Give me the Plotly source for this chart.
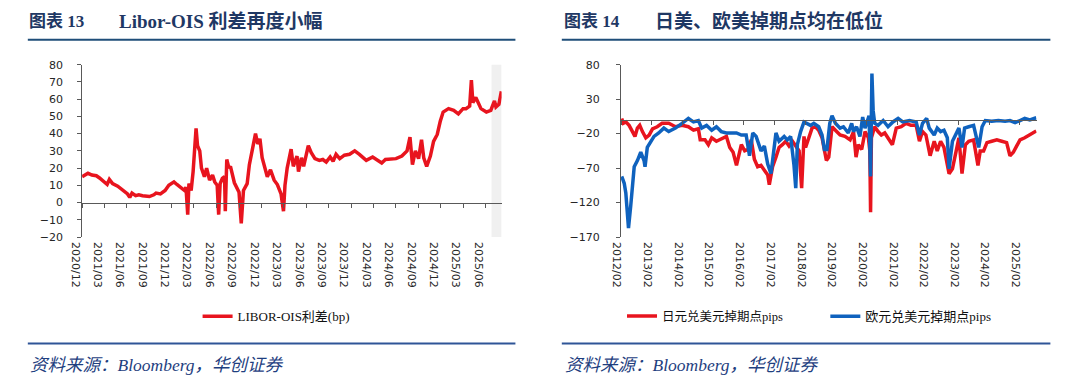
import plotly.graph_objects as go

W, H = 1080, 392

# ---------------- data: left chart (LIBOR-OIS spread, bp) ----------------
libor_dates = [
    "2020-12-01", "2020-12-12", "2020-12-25", "2021-01-10", "2021-01-28", "2021-02-10",
    "2021-03-01", "2021-03-13", "2021-03-22", "2021-04-04", "2021-04-25", "2021-05-13",
    "2021-06-04", "2021-06-13", "2021-06-22", "2021-07-07", "2021-07-20", "2021-08-04",
    "2021-08-18", "2021-09-01", "2021-09-19", "2021-09-28", "2021-10-16", "2021-11-04",
    "2021-11-19", "2021-12-10", "2021-12-22", "2022-01-10", "2022-01-22", "2022-01-28",
    "2022-02-04", "2022-02-09", "2022-02-18", "2022-02-26", "2022-03-04", "2022-03-10",
    "2022-03-16", "2022-03-25", "2022-04-01", "2022-04-13", "2022-04-22", "2022-05-04",
    "2022-05-16", "2022-05-25", "2022-06-04", "2022-06-10", "2022-06-16", "2022-06-25",
    "2022-07-04", "2022-07-07", "2022-07-13", "2022-07-22", "2022-07-28", "2022-08-13",
    "2022-09-01", "2022-09-10", "2022-09-19", "2022-10-04", "2022-10-13", "2022-10-25",
    "2022-11-07", "2022-11-16", "2022-11-25", "2022-12-04", "2022-12-13", "2022-12-25",
    "2023-01-07", "2023-01-22", "2023-02-04", "2023-02-19", "2023-03-01", "2023-03-07",
    "2023-03-16", "2023-03-25", "2023-04-01", "2023-04-10", "2023-04-25", "2023-05-01",
    "2023-05-13", "2023-05-22", "2023-06-10", "2023-06-22", "2023-07-07", "2023-07-25",
    "2023-08-08", "2023-08-22", "2023-09-07", "2023-09-19", "2023-10-01", "2023-10-16",
    "2023-11-04", "2023-11-25", "2023-12-16", "2024-01-04", "2024-02-01", "2024-02-27",
    "2024-03-16", "2024-04-04", "2024-04-19", "2024-05-10", "2024-06-01", "2024-06-25",
    "2024-07-16", "2024-07-28", "2024-08-07", "2024-08-19", "2024-09-01", "2024-09-13",
    "2024-09-22", "2024-10-04", "2024-10-19", "2024-11-01", "2024-11-16", "2024-11-28",
    "2024-12-10", "2025-01-01", "2025-01-22", "2025-02-10", "2025-03-01", "2025-03-13",
    "2025-03-28", "2025-04-04", "2025-04-10", "2025-04-22", "2025-05-13", "2025-06-04",
    "2025-06-22", "2025-07-07", "2025-07-13", "2025-07-25", "2025-08-04",
]
libor_values = [
    15, 16, 17, 16, 15.6, 14.3,
    12, 10.5, 13.4, 11, 9.5, 7.5,
    5, 3, 5.5, 4, 4.5, 4,
    3.5, 3.5, 4.5, 5.5, 5, 7,
    10, 12, 10.5, 8, 7, 9,
    -7, 11, 7, 18, 33, 43,
    33, 30, 20, 15, 20, 13,
    16, 12, 10, -7, 11, 14,
    15, -5, 25, 20, 21, 11.5,
    6, -12, 7, 11, 22, 31,
    40, 34, 37, 26, 21, 15,
    19, 13, 10.5, 5, -5, 10,
    20, 26, 31, 21, 27, 18,
    26, 21, 33, 29, 25.5, 24.5,
    25, 23.5, 26.5, 24, 28, 25.5,
    27.5, 28, 30, 28, 24.5, 26.5,
    25, 23, 25, 25, 25.5, 27,
    30, 38, 22, 30, 25.5, 36.5,
    26, 21, 27, 35.5, 39.5, 47,
    52.5, 54.5, 53.5, 51.5, 54.5, 54.5,
    56, 71, 58, 61, 54.5, 52.5,
    53.5, 59, 55.5, 57, 64.5,
]
left_name = "LIBOR-OIS利差(bp)"
left_xrange = ["2020-12-01", "2025-08-05"]
left_shade = ["2025-06-25", "2025-08-05"]
left_ticktext = ["2020/12", "2021/03", "2021/06", "2021/09", "2021/12", "2022/03", "2022/06",
                 "2022/09", "2022/12", "2023/03", "2023/06", "2023/09", "2023/12", "2024/03",
                 "2024/06", "2024/09", "2024/12", "2025/03", "2025/06"]
left_yrange = [-20, 80]

# ---------------- data: right chart (swap points, pips) ----------------
jpy_dates = [
    "2012-02-09", "2012-02-28", "2012-03-29", "2012-05-07", "2012-06-16", "2012-07-16",
    "2012-08-14", "2012-09-11", "2012-10-13", "2012-11-22", "2013-01-01", "2013-02-10",
    "2013-04-07", "2013-06-04", "2013-08-22", "2013-11-10", "2014-01-28", "2014-04-13",
    "2014-06-13", "2014-08-10", "2014-09-01", "2014-10-28", "2014-12-07", "2015-01-16",
    "2015-03-13", "2015-05-10", "2015-07-10", "2015-08-19", "2015-09-28", "2015-11-07",
    "2015-11-25", "2016-01-04", "2016-02-13", "2016-03-22", "2016-05-01", "2016-06-07",
    "2016-07-16", "2016-08-25", "2016-10-04", "2016-11-13", "2016-12-02", "2017-01-10",
    "2017-02-19", "2017-03-28", "2017-05-07", "2017-06-16", "2017-07-25", "2017-09-04",
    "2017-10-13", "2017-11-22", "2017-12-22", "2018-01-19", "2018-02-07", "2018-03-16",
    "2018-04-25", "2018-06-04", "2018-07-13", "2018-08-22", "2018-09-19", "2018-10-13",
    "2018-11-10", "2018-12-19", "2019-01-28", "2019-03-25", "2019-05-22", "2019-07-22",
    "2019-09-01", "2019-10-01", "2019-10-28", "2019-12-07", "2020-01-16", "2020-02-25",
    "2020-03-13", "2020-03-22", "2020-04-01", "2020-05-10", "2020-06-19", "2020-07-28",
    "2020-09-07", "2020-10-16", "2020-12-07", "2021-01-22", "2021-03-22", "2021-05-19",
    "2021-07-16", "2021-09-16", "2021-10-25", "2021-12-01", "2022-01-10", "2022-03-01",
    "2022-04-19", "2022-05-25", "2022-07-04", "2022-08-13", "2022-10-13", "2022-11-22",
    "2023-01-01", "2023-02-07", "2023-03-16", "2023-04-25", "2023-06-04", "2023-08-01",
    "2023-09-22", "2023-10-19", "2023-11-28", "2024-01-07", "2024-03-04", "2024-05-04",
    "2024-07-01", "2024-08-28", "2024-10-07", "2024-11-16", "2024-12-25", "2025-02-04",
    "2025-04-01", "2025-06-01", "2025-07-28", "2025-08-16",
]
jpy_values = [
    2, -5, -3, -8, -17, -24,
    -12, -8, -17, -26, -22, -13,
    -10, -5, -5, -10, -8, -10,
    -15, -13, -29, -29, -36, -26,
    -31, -27, -24, -40, -47, -66,
    -57, -36, -45, -43, -29, -57,
    -68, -66, -73, -80, -94, -68,
    -54, -40, -36, -31, -38, -31,
    -38, -45, -99, -24, -40, -26,
    -12, -10, -15, -26, -45, -59,
    -54, -10, -15, -22, -24, -29,
    -17, -54, -36, -43, -17, -26,
    -45, -134, -26, -10, -17, -22,
    -19, -26, -36, -12, -10, -5,
    -8, -8, -31, -17, -22, -52,
    -31, -45, -31, -40, -78, -71,
    -45, -26, -78, -36, -31, -29,
    -66, -45, -45, -33, -31, -29,
    -31, -33, -52, -47, -38, -29,
    -26, -22, -17, -16,
]
eur_dates = [
    "2012-02-09", "2012-03-10", "2012-03-29", "2012-04-19", "2012-04-30", "2012-05-27",
    "2012-06-16", "2012-07-07", "2012-08-14", "2012-09-23", "2012-11-01", "2012-11-13",
    "2012-12-10", "2013-01-19", "2013-02-28", "2013-04-25", "2013-06-25", "2013-08-22",
    "2013-11-10", "2014-01-28", "2014-04-13", "2014-06-13", "2014-08-10", "2014-09-19",
    "2014-11-16", "2015-01-16", "2015-03-13", "2015-05-10", "2015-07-10", "2015-09-07",
    "2015-11-07", "2016-01-04", "2016-03-01", "2016-04-10", "2016-05-19", "2016-06-28",
    "2016-08-25", "2016-10-04", "2016-11-13", "2016-12-22", "2017-01-22", "2017-02-19",
    "2017-03-28", "2017-05-28", "2017-07-04", "2017-08-13", "2017-09-22", "2017-10-13",
    "2017-11-01", "2017-12-10", "2018-01-19", "2018-02-28", "2018-04-07", "2018-05-16",
    "2018-07-13", "2018-08-22", "2018-09-19", "2018-10-19", "2018-11-22", "2018-12-19",
    "2019-01-28", "2019-03-25", "2019-05-04", "2019-07-01", "2019-08-10", "2019-09-01",
    "2019-10-07", "2019-11-16", "2019-12-19", "2020-01-16", "2020-02-13", "2020-03-04",
    "2020-03-22", "2020-04-07", "2020-04-22", "2020-05-10", "2020-06-19", "2020-08-19",
    "2020-10-16", "2020-12-13", "2021-02-13", "2021-04-10", "2021-06-28", "2021-09-16",
    "2021-10-25", "2021-12-01", "2022-01-19", "2022-02-19", "2022-04-19", "2022-05-25",
    "2022-07-04", "2022-08-13", "2022-09-22", "2022-10-13", "2022-11-22", "2023-01-01",
    "2023-02-07", "2023-03-16", "2023-04-16", "2023-06-04", "2023-08-01", "2023-10-01",
    "2023-11-10", "2023-12-19", "2024-03-04", "2024-05-22", "2024-08-10", "2024-10-07",
    "2024-12-07", "2025-02-04", "2025-04-01", "2025-06-01", "2025-07-28", "2025-08-16",
]
eur_values = [
    -82, -92, -106, -148, -157, -124,
    -92, -68, -59, -47, -59, -68,
    -40, -31, -24, -19, -12, -17,
    -12, -5, 2, -3, -1, -12,
    -8, -15, -10, -17, -19, -19,
    -19, -22, -22, -52, -19, -24,
    -45, -38, -64, -78, -45, -19,
    -31, -24, -29, -24, -66, -99,
    -36, -17, -3, -5, -8, -5,
    -10, -22, -43, -43, -5, 6,
    -5, -12, -10, -19, -5, -17,
    -10, -24, 4, -12, -1, 6,
    -82, 67, 13, -5, -8, -1,
    -10, -3, 2, -3, -1, -3,
    -22, -5, 2, -12, -22, -12,
    -17, -15, -26, -71, -31, -22,
    -12, -40, -12, -10, -8, -40,
    -10, -1, -2, -1, -2, -1,
    -4, -1, 2, 0, 3, 3,
]
jpy_name = "日元兑美元掉期点pips"
eur_name = "欧元兑美元掉期点pips"
right_xrange = ["2012-02-01", "2025-08-20"]
right_ticktext = ["2012/02", "2013/02", "2014/02", "2015/02", "2016/02", "2017/02", "2018/02",
                  "2019/02", "2020/02", "2021/02", "2022/02", "2023/02", "2024/02", "2025/02"]
right_yrange = [-170, 80]

left_title_a, left_title_b = "图表 13", "Libor-OIS 利差再度小幅"
right_title_a, right_title_b = "图表 14", "日美、欧美掉期点均在低位"
source_text = "资料来源：Bloomberg，华创证券"

# ---------------- styling ----------------
RED = "#E8141E"
BLUE = "#0F62BE"
NAVY = "#1F3864"
AXIS = "#595959"
TICKFONT = dict(family="DejaVu Sans, Noto Sans CJK SC", size=11, color="#262626")
SERIF = "Liberation Serif, Noto Sans CJK SC"
LW = 3.5


def tv(labels):
    return [t.replace("/", "-") + "-01" for t in labels]


def fx(px):
    return px / W


def fy(py):
    return 1 - py / H


PLOT_TOP, PLOT_BOT = 60.7, 239.0
ydom = [fy(PLOT_BOT), fy(PLOT_TOP)]
L_DOM = [fx(69), fx(494)]
R_DOM = [fx(615), fx(1036)]


def zero_pos(yr):
    return ydom[0] + (0 - yr[0]) / (yr[1] - yr[0]) * (ydom[1] - ydom[0])


fig = go.Figure()
fig.add_trace(go.Scatter(x=libor_dates, y=libor_values, mode="lines", name=left_name,
                         line=dict(color=RED, width=LW), xaxis="x", yaxis="y", legend="legend"))
fig.add_trace(go.Scatter(x=jpy_dates, y=jpy_values, mode="lines", name=jpy_name,
                         line=dict(color=RED, width=LW), xaxis="x2", yaxis="y2", legend="legend2"))
fig.add_trace(go.Scatter(x=eur_dates, y=eur_values, mode="lines", name=eur_name,
                         line=dict(color=BLUE, width=LW), xaxis="x2", yaxis="y2", legend="legend3"))
# helper (empty) traces so the zero-line axes are drawn
fig.add_trace(go.Scatter(x=[], y=[], xaxis="x3", yaxis="y", showlegend=False))
fig.add_trace(go.Scatter(x=[], y=[], xaxis="x4", yaxis="y2", showlegend=False))

common_x = dict(type="date", showgrid=False, zeroline=False, fixedrange=True)
fig.update_layout(
    width=W, height=H, margin=dict(l=0, r=0, t=0, b=0),
    paper_bgcolor="white", plot_bgcolor="rgba(0,0,0,0)",
    xaxis=dict(**common_x, domain=L_DOM, anchor="y", range=left_xrange,
               tickmode="array", tickvals=tv(left_ticktext), ticktext=left_ticktext,
               tickangle=90, ticks="", showline=False, tickfont=TICKFONT,
               ticklabelshift=-7, ticklabelstandoff=4),
    xaxis3=dict(**common_x, domain=L_DOM, anchor="free", overlaying="x",
                position=zero_pos(left_yrange), range=left_xrange,
                tickmode="array", tickvals=tv(left_ticktext), showticklabels=False,
                ticks="outside", ticklen=4, tickcolor=AXIS, showline=True,
                linecolor=AXIS, linewidth=1),
    yaxis=dict(domain=ydom, anchor="x", range=left_yrange, dtick=10, tick0=0,
               showgrid=False, zeroline=False, showline=True, linecolor=AXIS,
               ticks="outside", ticklen=4, tickcolor=AXIS, tickfont=TICKFONT,
               ticklabelstandoff=12),
    xaxis2=dict(**common_x, domain=R_DOM, anchor="y2", range=right_xrange,
                tickmode="array", tickvals=tv(right_ticktext), ticktext=right_ticktext,
                tickangle=90, ticks="", showline=False, tickfont=TICKFONT,
                ticklabelshift=-4, ticklabelstandoff=4),
    xaxis4=dict(**common_x, domain=R_DOM, anchor="free", overlaying="x2",
                position=zero_pos(right_yrange), range=right_xrange,
                tickmode="array", tickvals=tv(right_ticktext), showticklabels=False,
                ticks="outside", ticklen=4, tickcolor=AXIS, showline=True,
                linecolor=AXIS, linewidth=1),
    yaxis2=dict(domain=ydom, anchor="x2", range=right_yrange, dtick=50, tick0=80,
                showgrid=False, zeroline=False, showline=True, linecolor=AXIS,
                ticks="outside", ticklen=4, tickcolor=AXIS, tickfont=TICKFONT,
                ticklabelstandoff=14),
    legend=dict(orientation="h", x=fx(186), y=fy(321), xanchor="left", yanchor="middle",
                font=dict(family=SERIF, size=13, color="#111"), bgcolor="rgba(0,0,0,0)"),
    legend2=dict(orientation="h", x=fx(616), y=fy(321), xanchor="left", yanchor="middle",
                 font=dict(family=SERIF, size=12.5, color="#111"), bgcolor="rgba(0,0,0,0)"),
    legend3=dict(orientation="h", x=fx(822), y=fy(321), xanchor="left", yanchor="middle",
                 font=dict(family=SERIF, size=13, color="#111"), bgcolor="rgba(0,0,0,0)"),
    showlegend=True,
)

# shaded recent window on left chart
fig.add_shape(type="rect", xref="x", yref="y domain", x0=left_shade[0], x1=left_shade[1],
              y0=0, y1=1, fillcolor="#F0F0F0", line=dict(width=0), layer="below")

# title underlines and footer lines
for x0, x1 in [(14, 508), (555, 1050)]:
    fig.add_shape(type="line", xref="paper", yref="paper", x0=fx(x0), x1=fx(x1),
                  y0=fy(35), y1=fy(35), line=dict(color="#1F4E79", width=2))
    fig.add_shape(type="line", xref="paper", yref="paper", x0=fx(x0), x1=fx(x1),
                  y0=fy(349), y1=fy(349), line=dict(color="#2F5597", width=2))

TITLE_A = dict(family=SERIF, size=17, color=NAVY)
TITLE_B = dict(family=SERIF, size=19, color=NAVY)
for xa, xb, ta, tb in [(13, 104, left_title_a, left_title_b),
                       (555, 647, right_title_a, right_title_b)]:
    fig.add_annotation(x=fx(xa), y=fy(16), xref="paper", yref="paper", xanchor="left",
                       yanchor="middle", text="<b>" + ta + "</b>", showarrow=False,
                       font=TITLE_A)
    fig.add_annotation(x=fx(xb), y=fy(16), xref="paper", yref="paper", xanchor="left",
                       yanchor="middle", text="<b>" + tb + "</b>", showarrow=False,
                       font=TITLE_B)

for xs in [14, 556]:
    fig.add_annotation(x=fx(xs), y=fy(371), xref="paper", yref="paper", xanchor="left",
                       yanchor="middle", text="<i>" + source_text + "</i>", showarrow=False,
                       font=dict(family=SERIF, size=17.5, color="#1F3F7F"))

fig.write_html("out.html")
